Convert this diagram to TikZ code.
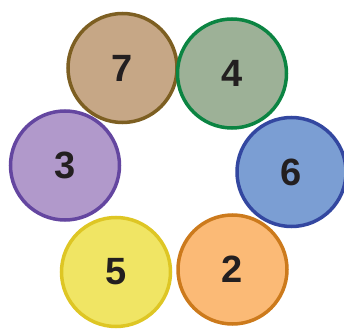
\documentclass[tikz,border=0pt]{standalone}
\usepackage{fontspec}
\setmainfont{Liberation Sans}
\definecolor{txt}{HTML}{231F20}
\definecolor{fseven}{HTML}{C6A786}\definecolor{bseven}{HTML}{7D5F22}
\definecolor{ffour}{HTML}{9DB197}\definecolor{bfour}{HTML}{0B8442}
\definecolor{fthree}{HTML}{B199CB}\definecolor{bthree}{HTML}{6446A0}
\definecolor{fsix}{HTML}{7B9ED3}\definecolor{bsix}{HTML}{3347A0}
\definecolor{ffive}{HTML}{F0E564}\definecolor{bfive}{HTML}{DEC624}
\definecolor{ftwo}{HTML}{FBBA76}\definecolor{btwo}{HTML}{CC7A1C}
\tikzset{ball/.style={circle, draw, line width=3.5pt, minimum size=109pt, inner sep=0pt,
  font=\fontsize{38}{38}\selectfont\bfseries, text=txt}}
\begin{document}
\begin{tikzpicture}[x=1pt,y=1pt]
\useasboundingbox (0,0) rectangle (344,329);
\node[ball, fill=fthree, draw=bthree] (n3) at (65,163.5) {3};
\node[ball, fill=fsix, draw=bsix] (n6) at (291.5,157) {6};
\node[ball, fill=fseven, draw=bseven] (n7) at (122.5,261) {7};
\node[ball, fill=ffour, draw=bfour] (n4) at (232,255.5) {4};
\node[ball, fill=ffive, draw=bfive] (n5) at (116,57) {5};
\node[ball, fill=ftwo, draw=btwo] (n2) at (232.5,59.5) {2};
\end{tikzpicture}
\end{document}
